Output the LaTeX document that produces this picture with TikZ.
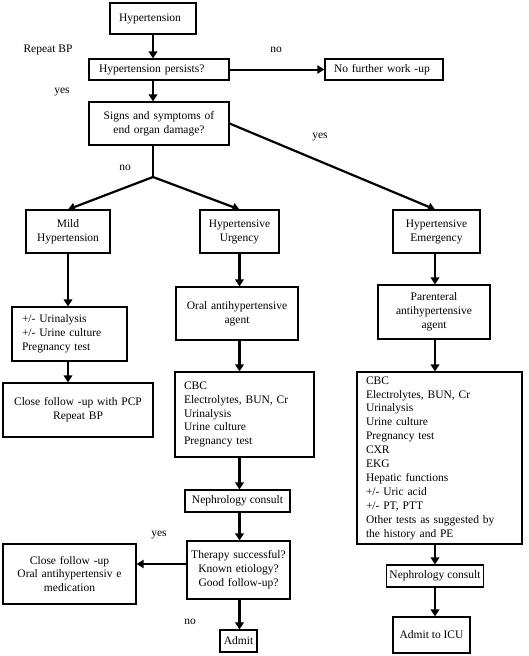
\documentclass[tikz,border=0pt]{standalone}
\usepackage{fontspec}
\setmainfont{Liberation Serif}
\usetikzlibrary{arrows.meta}
\newcommand\diagfont{\fontsize{11.5}{13.9}\selectfont}
\begin{document}
\begin{tikzpicture}[x=1pt,y=-1pt,
  bx/.style={draw, line width=1.1pt, inner xsep=9pt, inner ysep=0pt, align=center, font=\diagfont},
  lbx/.style={bx, align=left},
  lbl/.style={font=\diagfont, inner sep=0pt},
  varr/.style={line width=2.6pt, -{Triangle[width=8.5pt,length=7pt]}},
  darr/.style={line width=2.2pt, -{Triangle[width=8pt,length=7pt]}},
  harr/.style={line width=2pt, -{Triangle[width=8pt,length=7pt]}},
  ln/.style={line width=2.2pt}]
\useasboundingbox (0,0) rectangle (528,656);
% column coordinates
\coordinate (cm) at (68,0);
\coordinate (cu) at (239.5,0);
\coordinate (ce) at (435,0);
\coordinate (hy) at (0,564);
\coordinate (junc) at (153,177);
% top
\node[lbx, text width=68pt, minimum height=31pt] (hyp) at (153,18.5) {Hypertension};
\node[lbx, inner xsep=10pt, text width=120pt, minimum height=21pt] (pers) at (159,69.5) {Hypertension persists?};
\node[lbx, text width=100pt, minimum height=21pt] (nofw) at (384,69.5) {No further work -up};
\node[bx, text width=122pt, minimum height=43pt] (signs) at (159,123.5) {Signs and symptoms of\\end organ damage?};
% second row
\node[bx, text width=66pt, minimum height=43pt] (mild) at (68,231.5) {Mild\\Hypertension};
\node[bx, inner xsep=8pt, text width=63pt, minimum height=43pt] (urg) at (239.5,231.5) {Hypertensive\\Urgency};
\node[bx, text width=69pt, minimum height=43pt] (emerg) at (436.5,231.5) {Hypertensive\\Emergency};
% mild column
\node[lbx, inner xsep=10pt, text width=95pt, minimum height=54pt] (list) at (69.5,334) {+/- Urinalysis\\+/- Urine culture\\Pregnancy test};
\node[bx, text width=132pt, minimum height=54pt] (pcp) at (78,410) {Close follow -up with PCP\\Repeat BP};
% urgency column
\node[bx, inner xsep=7pt, text width=108pt, minimum height=53pt] (oral) at (237,313.5) {Oral antihypertensive\\agent};
\node[lbx, text width=121pt, minimum height=85pt] (cbc1) at (244.5,414.5) {CBC\\Electrolytes, BUN, Cr\\Urinalysis\\Urine culture\\Pregnancy test};
\node[bx, inner xsep=0pt, minimum width=105pt, minimum height=22pt] (neph1) at (237.5,501) {Nephrology consult};
\node[bx, inner xsep=4pt, text width=95pt, minimum height=58pt] (ther) at (238.5,570) {Therapy successful?\\Known etiology?\\Good follow-up?};
\node[bx, text width=115pt, minimum height=60pt] (close) at (69.5,574) {Close follow -up\\Oral antihypertensiv e\\medication};
\node[bx, inner xsep=0pt, minimum width=37pt, minimum height=22pt] (admit) at (238.5,641) {Admit};
% emergency column
\node[bx, text width=94pt, minimum height=54pt] (par) at (434,312) {Parenteral\\antihypertensive\\agent};
\node[lbx, text width=147pt, minimum height=172pt] (cbc2) at (439.5,458) {CBC\\Electrolytes, BUN, Cr\\Urinalysis\\Urine culture\\Pregnancy test\\CXR\\EKG\\Hepatic functions\\+/- Uric acid\\+/- PT, PTT\\Other tests as suggested by\\the history and PE};
\node[bx, inner xsep=0pt, minimum width=97pt, minimum height=22pt] (neph2) at (435,576) {Nephrology consult};
\node[bx, inner xsep=0pt, minimum width=77pt, minimum height=36pt] (icu) at (431.5,635) {Admit to ICU};
% labels
\node[lbl] (lrep) at (48,50) {Repeat BP};
\node[lbl] (lno1) at (276,50) {no};
\node[lbl] (lyes1) at (62,92) {yes};
\node[lbl] (lyes2) at (320,137) {yes};
\node[lbl] (lno2) at (125,168) {no};
\node[lbl] (lyes3) at (159,535) {yes};
\node[lbl] (lno3) at (190,622) {no};
% connectors
\draw[varr] (hyp.south) -- (pers.north -| hyp.south);
\draw[harr] (pers.east) -- (nofw.west);
\draw[varr] (pers.south -| hyp.south) -- (signs.north -| hyp.south);
\draw[ln] (signs.south -| hyp.south) -- (junc);
\draw[darr] (junc) -- (mild.north -| cm);
\draw[darr] (junc) -- (urg.north -| cu);
\draw[darr] (signs.east) -- (emerg.north -| ce);
\draw[varr] (mild.south -| cm) -- (list.north -| cm);
\draw[varr] (list.south -| cm) -- (pcp.north -| cm);
\draw[varr] (urg.south -| cu) -- (oral.north -| cu);
\draw[varr] (oral.south -| cu) -- (cbc1.north -| cu);
\draw[varr] (cbc1.south -| cu) -- (neph1.north -| cu);
\draw[varr] (neph1.south -| cu) -- (ther.north -| cu);
\draw[harr] (ther.west |- hy) -- (close.east |- hy);
\draw[varr] (ther.south -| cu) -- (admit.north -| cu);
\draw[varr] (emerg.south -| ce) -- (par.north -| ce);
\draw[varr] (par.south -| ce) -- (cbc2.north -| ce);
\draw[varr] (cbc2.south -| ce) -- (neph2.north -| ce);
\draw[varr] (neph2.south -| ce) -- (icu.north -| ce);
\end{tikzpicture}
\end{document}
